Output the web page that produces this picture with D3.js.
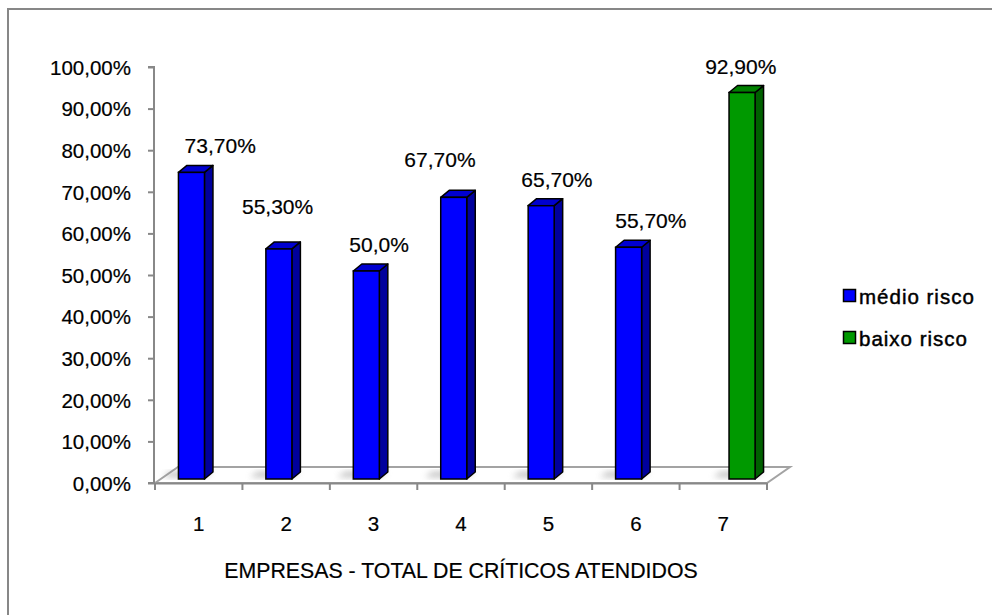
<!DOCTYPE html>
<html>
<head>
  <meta charset="utf-8" />
  <style>
    body { margin: 0; background: #fff; }
    svg text { font-family: "Liberation Sans", Arial, sans-serif; fill: #000; stroke: #000; stroke-width: 0.2px; }
  </style>
</head>
<body>
  <svg id="chart" width="992" height="615"></svg>

  <script src="https://d3js.org/d3.v7.min.js"></script>
  <script>
    // chart data
    var categories = ["1", "2", "3", "4", "5", "6", "7"];
    var seriesNames = ["médio risco", "baixo risco"];
    var medioRisco = [0.737, 0.553, 0.5, 0.677, 0.657, 0.557, null];
    var baixoRisco = [null, null, null, null, null, null, 0.929];
    var valueLabels = ["73,70%", "55,30%", "50,0%", "67,70%", "65,70%", "55,70%", "92,90%"];
    var yTicks = [0, 0.1, 0.2, 0.3, 0.4, 0.5, 0.6, 0.7, 0.8, 0.9, 1.0];
    var axisTitle = "EMPRESAS - TOTAL DE CRÍTICOS ATENDIDOS";

    // hand-moved label offsets (dx, dy) as in the original sheet
    var labelNudge = [[24.5, 0], [-5.5, -16], [8.5, 0], [-18, -11], [11.5, 0], [18, 0], [-5.5, 0]];

    var colors = {
      "médio risco": { front: "#0000ff", side: "#00009c", top: "#0000d0" },
      "baixo risco": { front: "#009900", side: "#006000", top: "#008000" }
    };

    var svg = d3.select("#chart");

    // outer frame (only top/left visible)
    svg.append("rect")
      .attr("x", 8).attr("y", 9)
      .attr("width", 1100).attr("height", 700)
      .attr("fill", "none")
      .attr("stroke", "#878787")
      .attr("stroke-width", 2);

    var plotLeft = 155, plotRight = 767, yBase = 483, yTop = 67;
    var floorDx = 23, floorDy = -16;      // depth of the floor
    var barDx = 8.5, barDy = -7;          // depth of a bar
    var placeDx = 5.75, placeDy = -4;     // bars sit a bit into the floor

    var y = d3.scaleLinear().domain([0, 1]).range([yBase, yTop]);
    var x0 = d3.scaleBand().domain(categories).range([plotLeft, plotRight]).padding(0);
    var x1 = d3.scaleBand().domain(seriesNames).range([0, x0.bandwidth()])
      .paddingInner(0).paddingOuter(0.68);

    var defs = svg.append("defs");
    defs.append("filter").attr("id", "blur")
      .attr("x", "-50%").attr("y", "-50%").attr("width", "200%").attr("height", "200%")
      .append("feGaussianBlur").attr("stdDeviation", 3);

    // floor
    svg.append("path")
      .attr("d", "M" + plotLeft + "," + yBase +
        "L" + (plotLeft + floorDx) + "," + (yBase + floorDy) +
        "L" + (plotRight + floorDx) + "," + (yBase + floorDy) +
        "L" + plotRight + "," + yBase + "Z")
      .attr("fill", "#fff")
      .attr("stroke", "#a3a3a3")
      .attr("stroke-width", 2);

    // y axis
    var locale = d3.formatLocale({ decimal: ",", thousands: ".", grouping: [3], currency: ["", ""] });
    var yAxis = d3.axisLeft(y).tickValues(yTicks).tickSize(6).tickPadding(17)
      .tickFormat(locale.format(".2%"));
    var gy = svg.append("g").attr("transform", "translate(" + (plotLeft - 1) + ",0)").call(yAxis);
    gy.select(".domain").attr("stroke", "#888").attr("stroke-width", 2)
      .attr("d", "M-6," + yBase + "H0V" + yTop + "H-6");
    gy.selectAll(".tick line").attr("stroke", "#888").attr("stroke-width", 2);
    gy.selectAll(".tick text").attr("font-size", 20.5).attr("dy", "0.36em")
      .style("font-family", "'Liberation Sans', Arial, sans-serif");

    // x axis (front floor edge)
    var xAxis = d3.axisBottom(x0).tickSize(0).tickPadding(33);
    var gx = svg.append("g").attr("transform", "translate(0," + yBase + ")").call(xAxis);
    gx.select(".domain").attr("stroke", "#888").attr("stroke-width", 2);
    gx.selectAll(".tick text").attr("font-size", 20.5)
      .style("font-family", "'Liberation Sans', Arial, sans-serif");
    gx.selectAll(".cat-tick")
      .data(categories.concat(["end"]))
      .enter().append("line")
      .attr("x1", function (d, i) { return plotLeft + i * x0.step(); })
      .attr("x2", function (d, i) { return plotLeft + i * x0.step(); })
      .attr("y1", 0).attr("y2", 7)
      .attr("stroke", "#888").attr("stroke-width", 2);

    svg.append("text")
      .attr("x", 461)
      .attr("y", 578)
      .attr("text-anchor", "middle")
      .attr("font-size", 21.3)
      .text(axisTitle);

    // bars
    var bars = [];
    categories.forEach(function (c, i) {
      [medioRisco, baixoRisco].forEach(function (arr, s) {
        if (arr[i] != null) bars.push({ cat: c, idx: i, series: seriesNames[s], value: arr[i] });
      });
    });

    var w = x1.bandwidth();
    var gBars = svg.append("g");

    bars.forEach(function (d) {
      var bx = x0(d.cat) + x1(d.series) + placeDx;
      var by0 = y(0) + placeDy;
      var by1 = y(d.value) + placeDy;
      d.bx = bx; d.by1 = by1;
      var col = colors[d.series];
      var g = gBars.append("g");

      // soft shadow on the floor
      g.append("path")
        .attr("d", "M" + (bx - 16) + "," + (by0 - 2) +
          "L" + (bx + w) + "," + (by0 - 2) +
          "L" + (bx + w + barDx) + "," + (by0 + barDy) +
          "L" + (bx - 8) + "," + (by0 + barDy) + "Z")
        .attr("fill", "#8c8c8c")
        .attr("opacity", 0.6)
        .attr("filter", "url(#blur)");

      g.append("path")
        .attr("d", "M" + (bx + w) + "," + by1 +
          "L" + (bx + w + barDx) + "," + (by1 + barDy) +
          "L" + (bx + w + barDx) + "," + (by0 + barDy) +
          "L" + (bx + w) + "," + by0 + "Z")
        .attr("fill", col.side).attr("stroke", "#000").attr("stroke-width", 1.5)
        .attr("stroke-linejoin", "round");

      g.append("path")
        .attr("d", "M" + bx + "," + by1 +
          "L" + (bx + barDx) + "," + (by1 + barDy) +
          "L" + (bx + w + barDx) + "," + (by1 + barDy) +
          "L" + (bx + w) + "," + by1 + "Z")
        .attr("fill", col.top).attr("stroke", "#000").attr("stroke-width", 1.5)
        .attr("stroke-linejoin", "round");

      g.append("rect")
        .attr("x", bx).attr("y", by1)
        .attr("width", w).attr("height", by0 - by1)
        .attr("fill", col.front).attr("stroke", "#000").attr("stroke-width", 1.5);
    });

    // value labels
    svg.append("g").selectAll("text")
      .data(bars)
      .enter().append("text")
      .attr("x", function (d) { return d.bx + (w + barDx) / 2 + labelNudge[d.idx][0]; })
      .attr("y", function (d) { return d.by1 - 19 + labelNudge[d.idx][1]; })
      .attr("text-anchor", "middle")
      .attr("font-size", 21)
      .text(function (d) { return valueLabels[d.idx]; });

    // legend
    var legend = svg.append("g").attr("transform", "translate(843,289)");
    var li = legend.selectAll("g").data(seriesNames).enter().append("g")
      .attr("transform", function (d, i) { return "translate(0," + i * 42 + ")"; });
    li.append("rect")
      .attr("x", 0.5).attr("y", 0.5).attr("width", 12).attr("height", 12)
      .attr("fill", function (d) { return colors[d].front; })
      .attr("stroke", "#000").attr("stroke-width", 1.5);
    li.append("text")
      .attr("x", 16).attr("y", 15)
      .attr("font-size", 20.5)
      .attr("letter-spacing", 1)
      .style("stroke-width", "0.45px")
      .text(function (d) { return d; });
  </script>
</body>
</html>
